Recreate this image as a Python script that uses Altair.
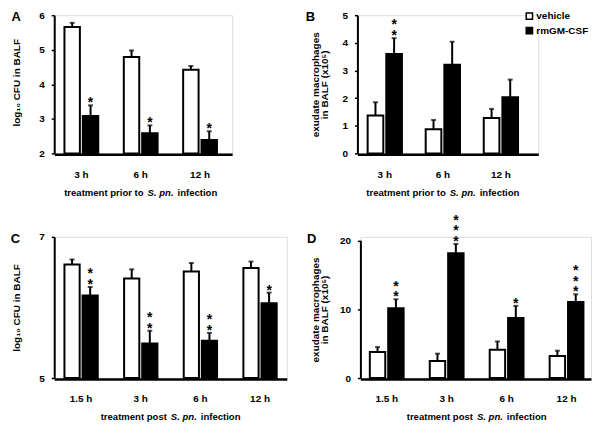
import altair as alt
import pandas as pd

FONT = "Liberation Sans"

groups = ["vehicle", "rmGM-CSF"]
fills = ["white", "black"]
times_pre = ["3 h", "6 h", "12 h"]
times_post = ["1.5 h", "3 h", "6 h", "12 h"]

# Panel A: log10 CFU, treatment prior to infection
a_vehicle = [5.66, 4.79, 4.42]
a_vehicle_top = [5.78, 4.98, 4.53]
a_rm = [3.08, 2.58, 2.39]
a_rm_top = [3.39, 2.81, 2.64]
a_stars = [1, 1, 1]

# Panel B: exudate macrophages, treatment prior to infection
b_vehicle = [1.37, 0.87, 1.28]
b_vehicle_top = [1.85, 1.21, 1.61]
b_rm = [3.60, 3.21, 2.03]
b_rm_top = [4.17, 4.04, 2.67]
b_stars = [2, 0, 0]

# Panel C: log10 CFU, treatment post infection
c_vehicle = [6.61, 6.41, 6.51, 6.56]
c_vehicle_top = [6.68, 6.54, 6.63, 6.65]
c_rm = [6.17, 5.49, 5.53, 6.06]
c_rm_top = [6.29, 5.67, 5.64, 6.21]
c_stars = [2, 2, 2, 1]

# Panel D: exudate macrophages, treatment post infection
d_vehicle = [3.78, 2.49, 4.12, 3.20]
d_vehicle_top = [4.50, 3.54, 5.31, 3.97]
d_rm = [10.15, 18.13, 8.71, 11.06]
d_rm_top = [11.44, 19.48, 10.48, 12.16]
d_stars = [2, 3, 1, 3]

y_title_cfu = "log₁₀ CFU in BALF"
y_title_mac = ["exudate macrophages", "in BALF (x10⁵)"]
x_title_pre = ["treatment prior to", "S. pn.", "infection"]
x_title_post = ["treatment post", "S. pn.", "infection"]

TITLE_FS = 9.6
# approximate Liberation Sans Bold advance widths (em) for centring the title pieces
W_EM = {"treatment prior to": 8.334, "treatment post": 6.945, "S. pn.": 2.723, "infection": 4.167}


def make_df(times, veh, veh_top, rm, rm_top, stars, base):
    rows = []
    for i, t in enumerate(times):
        rows.append(dict(time=t, group=groups[0], value=veh[i], top=veh_top[i], stars=0, base=base))
        rows.append(dict(time=t, group=groups[1], value=rm[i], top=rm_top[i], stars=stars[i], base=base))
    return pd.DataFrame(rows)


def panel(letter, letter_x, times, df, domain, yticks, W, H, start, step, bw,
          ytitle, ytitle_x, ytitle_y, xtitle, yrange=None, legend=False):
    n = len(times)
    pi = 1 - bw / step
    po = (W / step - n + pi) / 2
    al = start / (W - step * (n - pi))
    al = max(0.0, min(1.0, al))
    c = start + ((n - 1) * step + bw) / 2

    xaxis = alt.Axis(title=None, labelAngle=0, ticks=False, tickSize=0, domainWidth=2.5,
                     domainColor="black", offset=1, labelPadding=15, labelFont=FONT,
                     labelFontSize=10, labelFontWeight="bold", labelColor="black", grid=False)
    xenc = alt.X("time:N", sort=times,
                 scale=alt.Scale(domain=times, paddingInner=pi, paddingOuter=po, align=al),
                 axis=xaxis)
    xoff = alt.XOffset("group:N", sort=groups,
                       scale=alt.Scale(domain=groups, paddingInner=0.16, paddingOuter=0))
    sc = dict(domain=domain, nice=False, zero=False)
    if yrange is not None:
        sc["range"] = yrange
    yaxis = alt.Axis(values=yticks, format="d", title=ytitle, titleX=ytitle_x, titleY=ytitle_y,
                     titleAngle=270, titleAlign="center", titleBaseline="middle",
                     titleFont=FONT, titleFontSize=10, titleFontWeight="bold",
                     titleColor="black", titleLineHeight=9.5,
                     domainWidth=2, domainColor="black", tickColor="black", tickWidth=1.5,
                     tickSize=3, labelPadding=7, labelFont=FONT, labelFontSize=10,
                     labelFontWeight="bold", labelColor="black", grid=False)

    def Y(f):
        return alt.Y(f, scale=alt.Scale(**sc), axis=yaxis)

    if legend:
        leg = alt.Legend(title=None, orient="none", legendX=168, legendY=-4,
                         symbolType="square", symbolSize=40, symbolStrokeColor="black",
                         symbolStrokeWidth=1.5, labelFont=FONT, labelFontSize=10,
                         labelFontWeight="bold", labelColor="black", labelOffset=2,
                         rowPadding=0.5, padding=0)
    else:
        leg = None
    fill = alt.Fill("group:N", sort=groups, scale=alt.Scale(domain=groups, range=fills),
                    legend=leg)

    base = alt.Chart(df)
    bars = base.mark_bar(stroke="black", strokeWidth=2).encode(
        x=xenc, xOffset=xoff, y=Y("value:Q"), y2="base:Q", fill=fill)
    err = base.mark_rule(color="black", strokeWidth=2).encode(
        x=xenc, xOffset=xoff, y=Y("value:Q"), y2="top:Q")
    cap = base.mark_tick(color="black", size=5, thickness=2, orient="horizontal").encode(
        x=xenc, xOffset=xoff, y=Y("top:Q"))
    layers = [bars, err, cap]
    # significance stars stacked above the error bars
    for k in (1, 2, 3):
        sdf = df[df["stars"] >= k]
        if len(sdf) == 0:
            continue
        layers.append(alt.Chart(sdf).mark_text(
            text="*", font=FONT, fontSize=14, fontWeight="bold", color="black",
            baseline="alphabetic", align="center", dy=2 - 10.7 * (k - 1)
        ).encode(x=xenc, xOffset=xoff, y=Y("top:Q")))

    # panel letter
    layers.append(alt.Chart(pd.DataFrame({"t": [letter]})).mark_text(
        x=letter_x, y=6, align="left", baseline="alphabetic", font=FONT, fontSize=13,
        fontWeight="bold", color="black").encode(text="t:N"))

    # x-axis title with italic species name, centred under the bar groups
    gap = 4
    wl = W_EM[xtitle[0]] * TITLE_FS
    wm = W_EM[xtitle[1]] * TITLE_FS
    wr = W_EM[xtitle[2]] * TITLE_FS
    total = wl + gap + wm + gap + wr
    x0 = c - total / 2
    ty = H + 39.5
    parts = [(xtitle[0], x0 + wl, "right", "normal"),
             (xtitle[1], x0 + wl + gap + wm / 2, "center", "italic"),
             (xtitle[2], x0 + wl + gap + wm + gap, "left", "normal")]
    for txt, xx, alg, sty in parts:
        layers.append(alt.Chart(pd.DataFrame({"t": [txt]})).mark_text(
            x=xx, y=ty, align=alg, baseline="middle", font=FONT, fontSize=TITLE_FS,
            fontWeight="bold", fontStyle=sty, color="black").encode(text="t:N"))

    return alt.layer(*layers).properties(width=W, height=H)


df_a = make_df(times_pre, a_vehicle, a_vehicle_top, a_rm, a_rm_top, a_stars, 2)
df_b = make_df(times_pre, b_vehicle, b_vehicle_top, b_rm, b_rm_top, b_stars, 0)
df_c = make_df(times_post, c_vehicle, c_vehicle_top, c_rm, c_rm_top, c_stars, 5)
df_d = make_df(times_post, d_vehicle, d_vehicle_top, d_rm, d_rm_top, d_stars, 0)

pA = panel("A", -43, times_pre, df_a, [2, 6], [2, 3, 4, 5, 6], 179, 139, 10.3, 59.7, 34,
           y_title_cfu, -37.7, 67.5, x_title_pre)
pB = panel("B", -52, times_pre, df_b, [0, 5], [0, 1, 2, 3, 4, 5], 182, 139, 10.3, 58.4, 34.5,
           y_title_mac, -42.5, 69.5, x_title_pre, legend=True)
pC = panel("C", -43.7, times_post, df_c, [5, 7], [5, 6, 7], 234, 142, 10.3, 60, 33.5,
           y_title_cfu, -37.7, 71, x_title_post)
pD = panel("D", -53.7, times_post, df_d, [0, 20], [0, 10, 20], 232, 142, 9.5, 60.3, 34,
           y_title_mac, -45.5, 73, x_title_post, yrange=[142, 3.5])

res = dict(fill="independent", xOffset="independent", x="independent", y="independent")

row1 = alt.hconcat(pA, pB, spacing=126, bounds="flush").resolve_scale(**res).resolve_legend(fill="independent")
row2 = alt.hconcat(pC, pD, spacing=74, bounds="flush").resolve_scale(**res).resolve_legend(fill="independent")

chart = alt.vconcat(row1, row2, spacing=15).resolve_scale(**res).resolve_legend(
    fill="independent"
).properties(
    padding={"left": 1.5, "top": 0, "right": 0, "bottom": 0},
    background="white",
).configure_view(stroke=None).configure(font=FONT)

chart.save("out.html", embed_options={"renderer": "svg", "actions": False})
